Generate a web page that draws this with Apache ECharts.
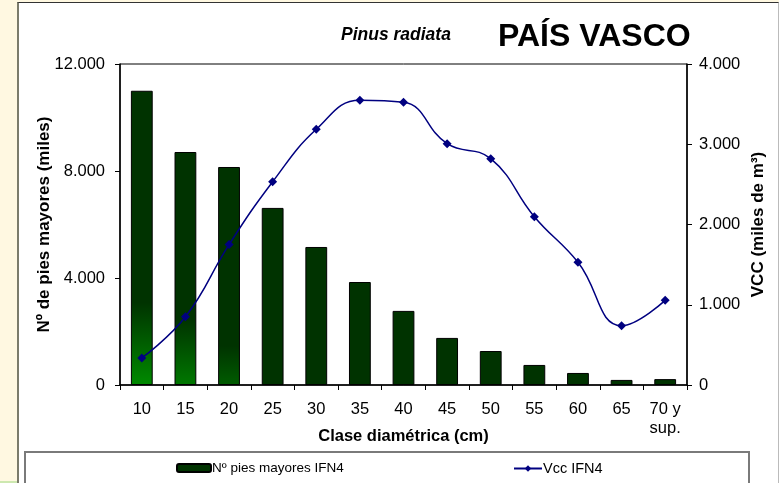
<!DOCTYPE html>
<html>
<head>
<meta charset="utf-8">
<script src="https://cdn.jsdelivr.net/npm/echarts@6/dist/echarts.min.js"></script>
<style>
  html, body { margin: 0; padding: 0; width: 779px; height: 483px; overflow: hidden; background: #FFF8E1; }
  #frame { position: absolute; left: 17px; top: 2px; width: 759px; height: 481px; background: #fff;
           border-left: 2px solid #7b7b6b; border-top: 1px solid #333; border-right: 1px solid #bbb; }
  #strip { position: absolute; left: 0; top: 481px; width: 17px; height: 2px; background: #cde8b0; }
  #chart { position: absolute; left: 0; top: 0; width: 779px; height: 483px; }
</style>
</head>
<body>
<div id="frame"></div>
<div id="strip"></div>
<div id="chart"></div>
<script>
// ---- data ----
const categories = ['10', '15', '20', '25', '30', '35', '40', '45', '50', '55', '60', '65', '70 y\nsup.'];
const piesMayores = [11000, 8710, 8150, 6620, 5160, 3850, 2770, 1760, 1270, 750, 450, 190, 220];
const vcc = [337, 850, 1750, 2533, 3186, 3548, 3523, 3007, 2820, 2097, 1529, 739, 1055];
const leftTicks = ['0', '4.000', '8.000', '12.000'];
const rightTicks = ['0', '1.000', '2.000', '3.000', '4.000'];
const seriesNames = ['Nº pies mayores IFN4', 'Vcc IFN4'];

// ---- styles ----
const dark = '#003300';
const barGradients = [
  [0.72, '#008a00'],
  [0.72, '#007800'],
  [0.82, '#005c00']
];
function barColor(i) {
  if (i < barGradients.length) {
    const g = barGradients[i];
    return new echarts.graphic.LinearGradient(0, 0, 0, 1, [
      { offset: 0, color: dark }, { offset: g[0], color: dark }, { offset: 1, color: g[1] }
    ]);
  }
  return dark;
}
const fontFam = '"Liberation Sans", Arial, sans-serif';

const chart = echarts.init(document.getElementById('chart'), null, { renderer: 'canvas' });
const option = {
  backgroundColor: 'transparent',
  animation: false,
  textStyle: { fontFamily: fontFam },
  title: [
    { text: 'Pinus radiata', left: 336, top: 21,
      textStyle: { fontSize: 17.5, fontWeight: 'bold', fontStyle: 'italic', color: '#000', fontFamily: fontFam } },
    { text: 'PAÍS VASCO', left: 493, top: 16,
      textStyle: { fontSize: 32, fontWeight: 'bold', color: '#000', fontFamily: fontFam } }
  ],
  graphic: [
    { type: 'rect', shape: { x: 25, y: 452, width: 724, height: 40 },
      style: { fill: '#fff', stroke: '#7a7a7a', lineWidth: 2 }, z: -1 }
  ],
  legend: [
    { data: [seriesNames[0]], left: 171, top: 456, itemWidth: 34, itemHeight: 8, itemGap: 2,
      textStyle: { fontSize: 13.5, color: '#000', fontFamily: fontFam, padding: [0, 0, 0, -4] } },
    { data: [seriesNames[1]], left: 508, top: 456, itemWidth: 28, itemHeight: 8,
      textStyle: { fontSize: 14.5, color: '#000', fontFamily: fontFam, padding: [0, 0, 0, -4] } }
  ],
  grid: { left: 120, right: 92, top: 64, bottom: 98, show: true, borderColor: '#000', borderWidth: 1, backgroundColor: 'transparent' },
  xAxis: {
    type: 'category', data: categories,
    name: 'Clase diamétrica (cm)', nameLocation: 'middle', nameGap: 43, nameMoveOverlap: false,
    nameTextStyle: { fontSize: 16.5, fontWeight: 'bold', color: '#000', fontFamily: fontFam },
    axisLine: { lineStyle: { color: '#000', width: 1.5 } },
    axisTick: { show: true, length: 5, alignWithLabel: false, lineStyle: { color: '#000' } },
    axisLabel: { fontSize: 16.5, color: '#000', margin: 15, lineHeight: 19, interval: 0, fontFamily: fontFam }
  },
  yAxis: [
    { type: 'value', min: 0, max: 12000, interval: 4000, position: 'left',
      name: 'Nº de pies mayores (miles)', nameLocation: 'middle', nameGap: 67, nameRotate: 90, nameMoveOverlap: false,
      nameTextStyle: { fontSize: 17, fontWeight: 'bold', color: '#000', fontFamily: fontFam },
      axisLine: { show: true, lineStyle: { color: '#000', width: 1.5 } },
      axisTick: { show: true, length: 5, lineStyle: { color: '#000' } },
      splitLine: { show: false },
      axisLabel: { fontSize: 16.5, color: '#000', margin: 15, fontFamily: fontFam,
        formatter: v => leftTicks[Math.round(v / 4000)] }
    },
    { type: 'value', min: 0, max: 4000, interval: 1000, position: 'right',
      name: 'VCC (miles de m³)', nameLocation: 'middle', nameGap: 63, nameRotate: 90, nameMoveOverlap: false,
      nameTextStyle: { fontSize: 17, fontWeight: 'bold', color: '#000', fontFamily: fontFam },
      axisLine: { show: true, lineStyle: { color: '#000', width: 1.5 } },
      axisTick: { show: true, length: 5, lineStyle: { color: '#000' } },
      splitLine: { show: false },
      axisLabel: { fontSize: 16.5, color: '#000', margin: 12, fontFamily: fontFam,
        formatter: v => rightTicks[Math.round(v / 1000)] }
    }
  ],
  series: [
    { name: seriesNames[0], type: 'bar', yAxisIndex: 0, barWidth: '50%',
      itemStyle: { color: dark, borderColor: '#000', borderWidth: 1 },
      data: piesMayores.map((v, i) => ({ value: v, itemStyle: { color: barColor(i) } })) },
    { name: seriesNames[1], type: 'line', yAxisIndex: 1, smooth: 0.45,
      symbol: 'diamond', symbolSize: 9,
      lineStyle: { color: '#000080', width: 1.5 },
      itemStyle: { color: '#000080' },
      data: vcc }
  ]
};
chart.setOption(option);
</script>
</body>
</html>
